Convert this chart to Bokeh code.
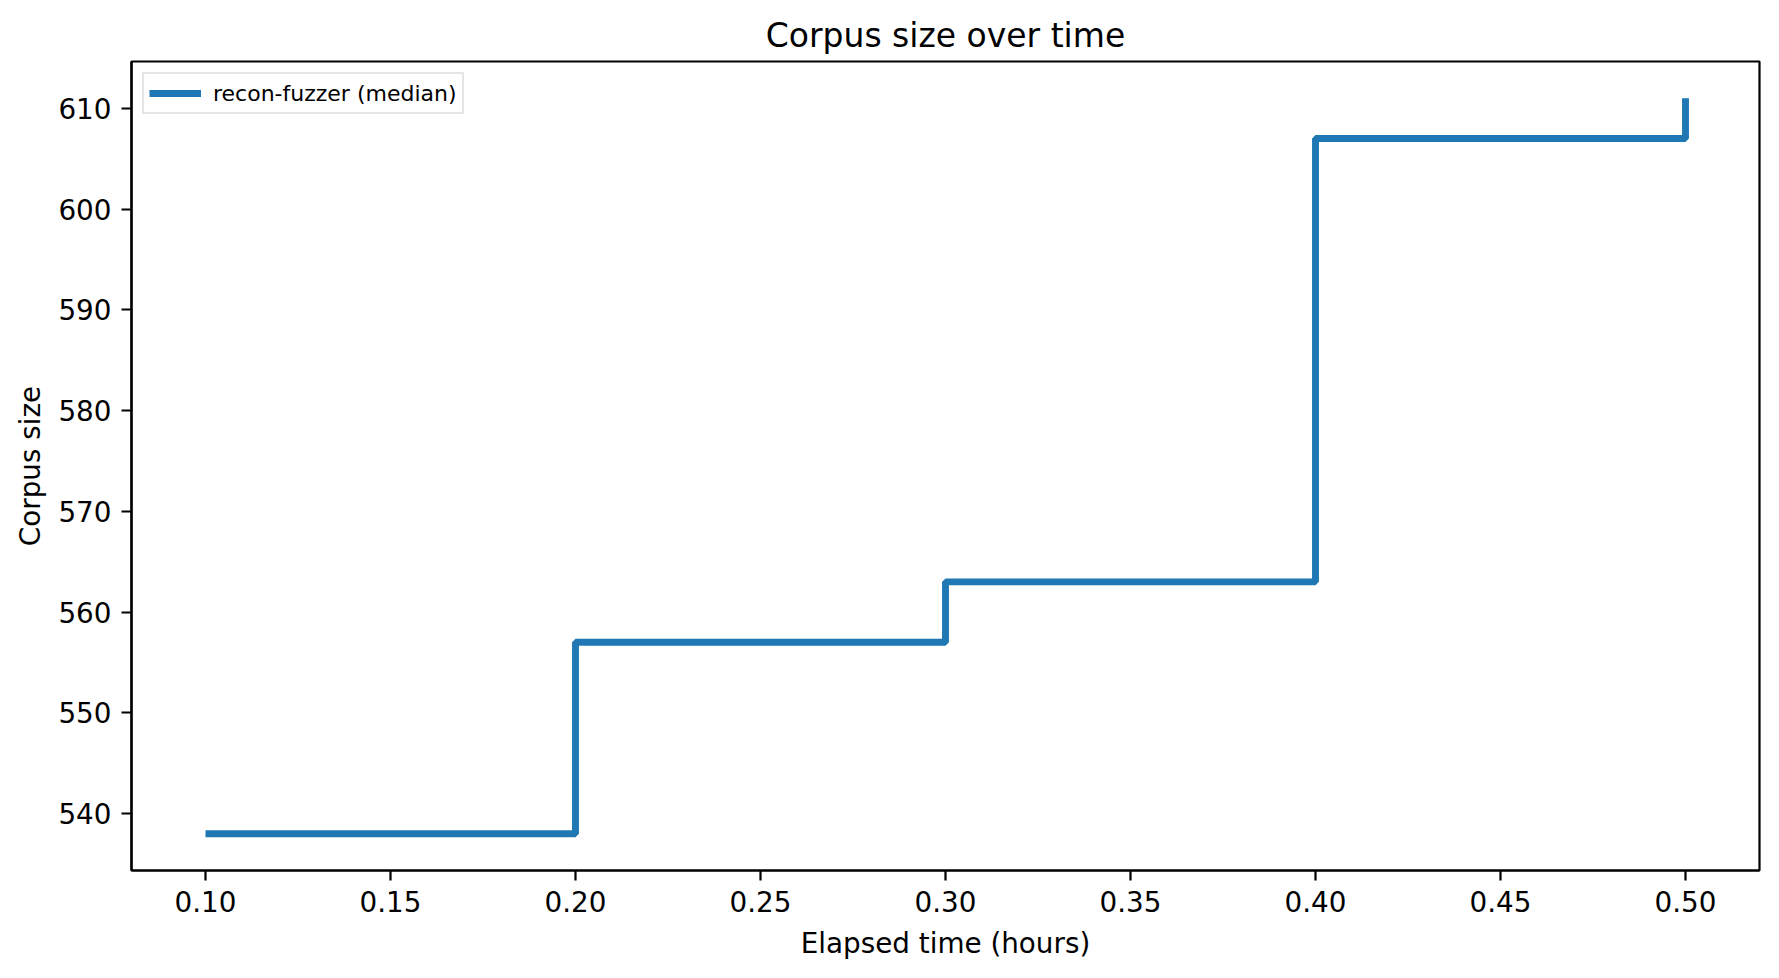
from bokeh.plotting import figure
from bokeh.models import SingleIntervalTicker, NumeralTickFormatter, Range1d, Legend, LegendItem
from bokeh.embed import file_html
from bokeh.resources import INLINE

# corpus size (median) per elapsed hour
elapsed_hours = [0.10, 0.20, 0.30, 0.40, 0.50]
corpus_size = [538, 557, 563, 607, 611]

FONT = "DejaVu Sans"
BLUE = "#1f77b4"

p = figure(width=1763, height=962, output_backend="svg", toolbar_location=None,
           x_range=Range1d(0.08, 0.52), y_range=Range1d(534.35, 614.65),
           title="Corpus size over time")

p.min_border_left = 131
p.min_border_right = 4
p.min_border_top = 61
p.min_border_bottom = 90

line = p.step(elapsed_hours, corpus_size, mode="after", line_width=6.9, color=BLUE)

p.title.text_font = FONT
p.title.text_font_size = "33px"
p.title.text_font_style = "normal"
p.title.align = "center"
p.title.text_color = "black"
p.title.standoff = 14

p.grid.visible = False
p.outline_line_color = "black"
p.outline_line_width = 2.2

for ax in (p.xaxis[0], p.yaxis[0]):
    ax.axis_line_width = 2.2
    ax.major_tick_line_width = 2.2
    ax.major_tick_out = 10
    ax.major_tick_in = 0
    ax.minor_tick_out = 0
    ax.minor_tick_in = 0
    ax.major_label_text_font = FONT
    ax.major_label_text_font_size = "27.8px"
    ax.major_label_text_color = "black"
    ax.axis_label_text_font = FONT
    ax.axis_label_text_font_size = "27.8px"
    ax.axis_label_text_font_style = "normal"
    ax.axis_label_text_color = "black"

p.xaxis.ticker = SingleIntervalTicker(interval=0.05)
p.xaxis.formatter = NumeralTickFormatter(format="0.00")
p.xaxis.axis_label = "Elapsed time (hours)"
p.xaxis.major_label_standoff = 10
p.xaxis.axis_label_standoff = 12

p.yaxis.ticker = SingleIntervalTicker(interval=10)
p.yaxis.axis_label = "Corpus size"
p.yaxis.major_label_standoff = 10
p.yaxis.axis_label_standoff = 8

legend = Legend(items=[LegendItem(label="recon-fuzzer (median)", renderers=[line])],
                location="top_left")
legend.margin = 11
legend.padding = 5
legend.spacing = 0
legend.label_text_font = FONT
legend.label_text_font_size = "22px"
legend.label_text_color = "black"
legend.label_standoff = 12
legend.glyph_width = 52
legend.glyph_height = 28
legend.border_line_color = "#cccccc"
legend.border_line_width = 2
legend.background_fill_alpha = 0.8
p.add_layout(legend)

open("out.html", "w").write(file_html(p, INLINE))
